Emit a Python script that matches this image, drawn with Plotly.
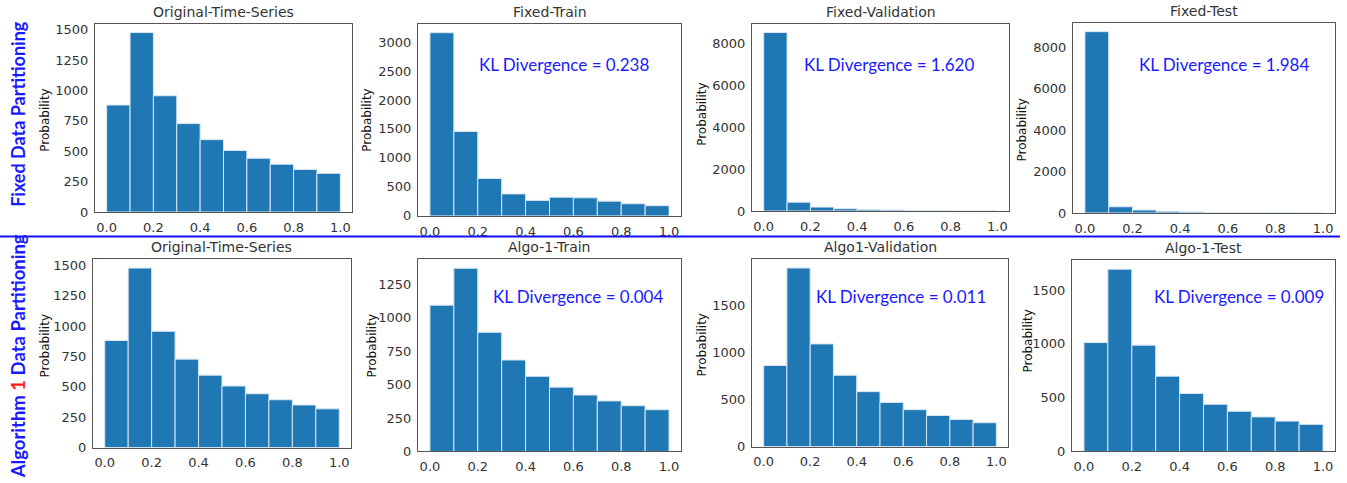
import plotly.graph_objects as go

W, H = 1347, 483

bin_centers = [0.05, 0.15, 0.25, 0.35, 0.45, 0.55, 0.65, 0.75, 0.85, 0.95]

titles = ["Original-Time-Series", "Fixed-Train", "Fixed-Validation", "Fixed-Test",
          "Original-Time-Series", "Algo-1-Train", "Algo1-Validation", "Algo-1-Test"]

orig_series = [880, 1476, 956, 727, 595, 506, 442, 393, 350, 318]
fixed_train = [3159, 1457, 646, 380, 267, 323, 312, 255, 210, 176]
fixed_val = [8515, 421, 187, 109, 62, 47, 20, 10, 6, 4]
fixed_test = [8756, 299, 142, 79, 47, 20, 12, 8, 5, 4]
algo_train = [1094, 1370, 891, 684, 562, 481, 422, 378, 342, 312]
algo_val = [861, 1896, 1090, 757, 583, 469, 392, 330, 288, 253]
algo_test = [1012, 1694, 988, 700, 539, 439, 373, 321, 282, 252]

series = [orig_series, fixed_train, fixed_val, fixed_test,
          orig_series, algo_train, algo_val, algo_test]

kl_labels = [None, "KL Divergence = 0.238", "KL Divergence = 1.620", "KL Divergence = 1.984",
             None, "KL Divergence = 0.004", "KL Divergence = 0.011", "KL Divergence = 0.009"]

ytick_vals = [
    [0, 250, 500, 750, 1000, 1250, 1500],
    [0, 500, 1000, 1500, 2000, 2500, 3000],
    [0, 2000, 4000, 6000, 8000],
    [0, 2000, 4000, 6000, 8000],
    [0, 250, 500, 750, 1000, 1250, 1500],
    [0, 250, 500, 750, 1000, 1250],
    [0, 500, 1000, 1500],
    [0, 500, 1000, 1500],
]
xtick_vals = [0.0, 0.2, 0.4, 0.6, 0.8, 1.0]
xtick_text = ["0.0", "0.2", "0.4", "0.6", "0.8", "1.0"]

# panel boxes in pixels: x0, x1, y0(top), y1(bottom)
boxes = [
    (95, 352, 23, 215), (418, 681, 23, 219), (752, 1009, 23, 214), (1073, 1335, 22, 216),
    (93, 351, 263, 455), (418, 681, 263, 459), (752, 1008, 263, 454), (1072, 1335, 264, 459),
]
ylabel_pos = [(45, 122), (367, 122), (702, 115), (1022, 132),
              (45, 352), (372, 352), (702, 350), (1028, 347)]
kl_pos = [None, (564, 65), (889, 65), (1224, 65), None, (578, 301), (901, 301), (1239, 301)]

fig = go.Figure()
layout = dict(
    width=W, height=H, margin=dict(l=0, r=0, t=0, b=0),
    paper_bgcolor="white", plot_bgcolor="white", showlegend=False,
    font=dict(family="DejaVu Sans", color="#333333"),
)
annotations = []
shapes = []

for i in range(8):
    n = i + 1
    xa = "x" if n == 1 else f"x{n}"
    ya = "y" if n == 1 else f"y{n}"
    fig.add_trace(go.Bar(
        x=bin_centers, y=series[i], width=0.1, xaxis=xa, yaxis=ya,
        marker=dict(color="#1f77b4", line=dict(color="#d8e6f2", width=1)),
        hoverinfo="skip",
    ))
    x0, x1, y0, y1 = boxes[i]
    ymax = max(series[i]) * 1.05
    common = dict(showline=True, mirror=True, linecolor="#555555", linewidth=1,
                  showgrid=False, zeroline=False, ticks="outside", ticklen=3,
                  tickcolor="rgba(0,0,0,0)", tickfont=dict(size=13, color="#333333"))
    layout["xaxis" if n == 1 else f"xaxis{n}"] = dict(
        domain=[x0 / W, x1 / W], anchor=ya, range=[-0.05, 1.05],
        tickvals=xtick_vals, ticktext=xtick_text, **common)
    layout["yaxis" if n == 1 else f"yaxis{n}"] = dict(
        domain=[1 - y1 / H, 1 - y0 / H], anchor=xa, range=[0, ymax],
        tickvals=ytick_vals[i], **common)
    annotations.append(dict(
        text=titles[i], xref="paper", yref="paper", x=(x0 + x1) / 2 / W,
        y=1 - (y0 - 2) / H, xanchor="center", yanchor="bottom", showarrow=False,
        font=dict(size=14, color="#333333", family="DejaVu Sans")))
    lx, ly = ylabel_pos[i]
    annotations.append(dict(
        text="Probability", xref="paper", yref="paper", x=lx / W, y=1 - ly / H,
        xanchor="center", yanchor="middle", showarrow=False, textangle=-90,
        font=dict(size=12, color="#111111", family="DejaVu Sans")))
    if kl_labels[i]:
        kx, ky = kl_pos[i]
        annotations.append(dict(
            text=kl_labels[i], xref="paper", yref="paper", x=kx / W, y=1 - ky / H,
            xanchor="center", yanchor="middle", showarrow=False,
            font=dict(size=17, color="#1a1aff", family="Lato")))

annotations.append(dict(
    text="<b>Fixed Data Partitioning</b>", xref="paper", yref="paper",
    x=18 / W, y=1 - 115 / H, xanchor="center", yanchor="middle", showarrow=False,
    textangle=-90, font=dict(size=18, color="#1a1aff", family="Lato")))
annotations.append(dict(
    text="<b>Algorithm <span style='color:#ff2020'>1</span> Data Partitioning</b>",
    xref="paper", yref="paper", x=18 / W, y=1 - 362 / H, xanchor="center",
    yanchor="middle", showarrow=False, textangle=-90,
    font=dict(size=18.5, color="#1a1aff", family="Lato")))

shapes.append(dict(type="line", xref="paper", yref="paper", x0=0, x1=1340 / W,
                   y0=1 - 240 / H, y1=1 - 240 / H, line=dict(color="#1010ee", width=2)))

layout["annotations"] = annotations
layout["shapes"] = shapes
fig.update_layout(**layout)
fig.write_html("out.html", config={"displayModeBar": False},
               post_script="document.body.style.margin='0';document.body.style.overflow='hidden';")
